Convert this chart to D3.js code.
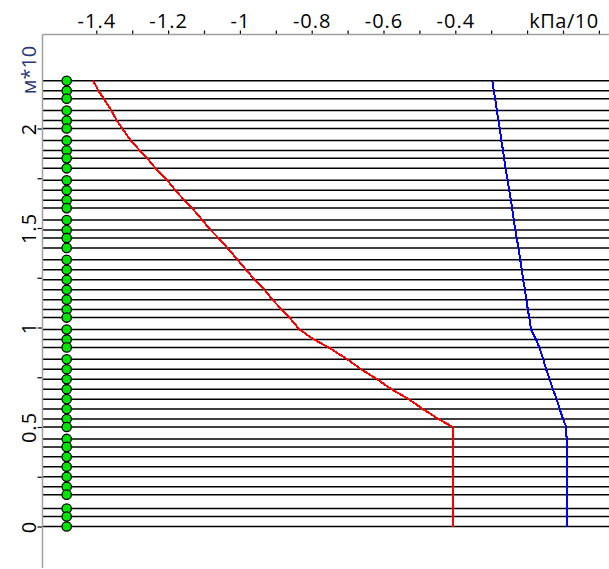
<!DOCTYPE html>
<html>
<head>
<meta charset="utf-8">
<script src="https://cdn.jsdelivr.net/npm/d3@7"></script>
<style>
    body { margin: 0; background: #fff; }
    #profile-chart text { font-family: "Open Sans", sans-serif; }
</style>
</head>
<body>
<div id="profile-chart"></div>
<script>
// depth of each layer boundary (m*10)
var depths = [2.24, 2.19, 2.15, 2.09, 2.04, 2.00, 1.94, 1.89, 1.85, 1.80,
    1.74, 1.69, 1.64, 1.60, 1.54, 1.49, 1.45, 1.40, 1.34, 1.29,
    1.24, 1.19, 1.14, 1.09, 1.05, 0.99, 0.94, 0.90, 0.84, 0.79,
    0.74, 0.69, 0.64, 0.59, 0.54, 0.50, 0.44, 0.40, 0.35, 0.30,
    0.25, 0.20, 0.16, 0.09, 0.05, 0.00];

// pressure profiles (kPa/10), one value per layer
var redValues = [-1.409, -1.394, -1.379, -1.358, -1.343, -1.328, -1.304, -1.279, -1.258, -1.235,
    -1.202, -1.180, -1.155, -1.133, -1.105, -1.082, -1.060, -1.035, -1.006, -0.983,
    -0.959, -0.932, -0.909, -0.884, -0.862, -0.834, -0.794, -0.753, -0.701, -0.662,
    -0.618, -0.578, -0.530, -0.490, -0.447, -0.407, -0.407, -0.407, -0.407, -0.407,
    -0.407, -0.407, -0.407, -0.407, -0.407, -0.407];

var blueValues = [-0.297, -0.293, -0.289, -0.284, -0.280, -0.276, -0.272, -0.267, -0.264, -0.260,
    -0.254, -0.250, -0.245, -0.242, -0.237, -0.233, -0.229, -0.224, -0.219, -0.215,
    -0.211, -0.206, -0.202, -0.198, -0.194, -0.189, -0.175, -0.166, -0.155, -0.147,
    -0.137, -0.128, -0.118, -0.109, -0.100, -0.091, -0.090, -0.090, -0.090, -0.090,
    -0.090, -0.090, -0.090, -0.090, -0.090, -0.090];

// axis ticks
var xMajorTicks = [-1.4, -1.2, -1, -0.8, -0.6, -0.4, -0.2, 0];
var xMinorTicks = [-1.3, -1.1, -0.9, -0.7, -0.5, -0.3, -0.1];
var xTickLabels = ["-1.4", "-1.2", "-1", "-0.8", "-0.6", "-0.4", "", ""];
var yMajorTicks = [0, 0.5, 1, 1.5, 2];
var yMinorTicks = [0.25, 0.75, 1.25, 1.75];
var yTickLabels = ["0", "0.5", "1", "1.5", "2"];
var xUnit = "kПа/10";
var yUnit = "м*10";


ProfileVis = function(_parentElement){
    this.parentElement = _parentElement;
    this.initVis();
}

ProfileVis.prototype.initVis = function(){
    var vis = this;

    vis.width = 609;
    vis.height = 569;
    vis.left = 42.5;
    vis.top = 34.5;

    vis.svg = d3.select("#" + vis.parentElement).append("svg")
        .attr("width", vis.width)
        .attr("height", vis.height);

    // Scales
    vis.x = d3.scaleLinear()
        .domain([-1.4, 0])
        .range([96.3, 598.9]);

    vis.y = d3.scaleLinear()
        .domain([0, 2])
        .range([526.5, 128.5]);

    vis.wrangleData();
}

ProfileVis.prototype.wrangleData = function(){
    var vis = this;

    vis.layers = depths.map(function(d, i){
        return { depth: d, red: redValues[i], blue: blueValues[i] };
    });

    vis.updateVis();
}

ProfileVis.prototype.updateVis = function(){
    var vis = this;

    // horizontal layer lines
    vis.svg.append("g").attr("class", "layers")
        .selectAll("line")
        .data(vis.layers)
        .enter().append("line")
        .attr("x1", vis.left)
        .attr("x2", vis.width)
        .attr("y1", function(d){ return vis.y(d.depth); })
        .attr("y2", function(d){ return vis.y(d.depth); })
        .attr("stroke", "#000")
        .attr("stroke-width", 1.5);

    // profile lines
    var redLine = d3.line()
        .x(function(d){ return vis.x(d.red); })
        .y(function(d){ return vis.y(d.depth); });

    var blueLine = d3.line()
        .x(function(d){ return vis.x(d.blue); })
        .y(function(d){ return vis.y(d.depth); });

    vis.svg.append("path")
        .datum(vis.layers)
        .attr("fill", "none")
        .attr("stroke", "#ff0000")
        .attr("stroke-width", 2)
        .attr("shape-rendering", "crispEdges")
        .attr("d", redLine);

    vis.svg.append("path")
        .datum(vis.layers)
        .attr("fill", "none")
        .attr("stroke", "#0000ff")
        .attr("stroke-width", 2)
        .attr("shape-rendering", "crispEdges")
        .attr("d", blueLine);

    // green markers
    vis.svg.append("g").attr("class", "dots")
        .selectAll("circle")
        .data(vis.layers)
        .enter().append("circle")
        .attr("cx", 66.7)
        .attr("cy", function(d){ return vis.y(d.depth); })
        .attr("r", 4.7)
        .attr("fill", "#00e600")
        .attr("stroke", "#000")
        .attr("stroke-width", 1.3);

    // top axis
    var xAxis = d3.axisTop(vis.x)
        .tickValues(xMajorTicks.concat(xMinorTicks))
        .tickSize(4)
        .tickSizeOuter(0)
        .tickFormat(function(d){
            var i = xMajorTicks.indexOf(d);
            return i >= 0 ? xTickLabels[i] : "";
        });

    var gx = vis.svg.append("g")
        .attr("class", "x-axis")
        .attr("transform", "translate(0," + vis.top + ")")
        .call(xAxis);

    gx.select(".domain").remove();
    gx.selectAll(".tick line").attr("stroke", "#000").attr("stroke-width", 1.2);
    gx.selectAll(".tick text")
        .attr("y", -7)
        .attr("fill", "#000")
        .style("font-size", "20px")
        .style("letter-spacing", "1px");

    vis.svg.append("line")
        .attr("x1", vis.left).attr("x2", vis.width)
        .attr("y1", vis.top).attr("y2", vis.top)
        .attr("stroke", "#a0a0a0")
        .attr("stroke-width", 1.5);

    vis.svg.append("text")
        .attr("x", 564)
        .attr("y", vis.top - 7)
        .attr("text-anchor", "middle")
        .attr("fill", "#000")
        .style("font-size", "20px")
        .style("letter-spacing", "0.5px")
        .text(xUnit);

    // left axis
    var yAxis = d3.axisLeft(vis.y)
        .tickValues(yMajorTicks.concat(yMinorTicks))
        .tickSize(5)
        .tickSizeOuter(0)
        .tickFormat(function(d){
            var i = yMajorTicks.indexOf(d);
            return i >= 0 ? yTickLabels[i] : "";
        });

    var gy = vis.svg.append("g")
        .attr("class", "y-axis")
        .attr("transform", "translate(" + vis.left + ",0)")
        .call(yAxis);

    gy.select(".domain").remove();
    gy.selectAll(".tick line").attr("stroke", "#000").attr("stroke-width", 1.2);
    gy.selectAll(".tick text")
        .attr("x", null)
        .attr("dy", null)
        .attr("transform", "translate(-6.5,0) rotate(-90)")
        .attr("text-anchor", "middle")
        .attr("fill", "#000")
        .style("font-size", "20px")
        .style("letter-spacing", "1px");

    vis.svg.append("line")
        .attr("x1", vis.left).attr("x2", vis.left)
        .attr("y1", vis.top).attr("y2", 568)
        .attr("stroke", "#a0a0a0")
        .attr("stroke-width", 1.5);

    vis.svg.append("text")
        .attr("transform", "translate(36,70) rotate(-90)")
        .attr("text-anchor", "middle")
        .attr("fill", "#283878")
        .style("font-size", "20px")
        .text(yUnit);
}

var profileVis = new ProfileVis("profile-chart");
</script>
</body>
</html>
